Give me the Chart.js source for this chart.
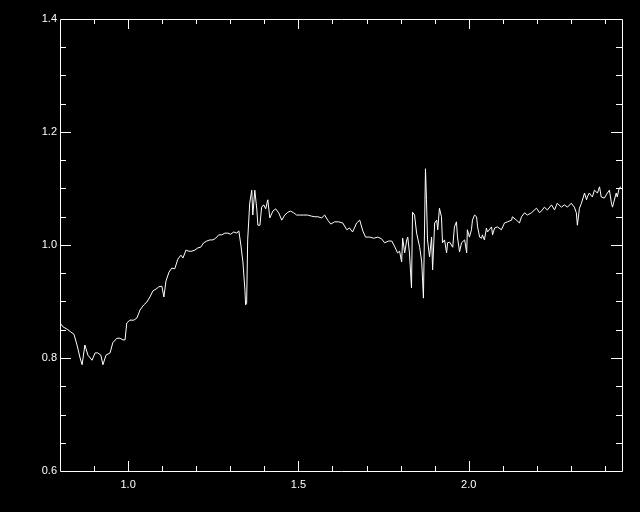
<!DOCTYPE html>
<html>
<head>
<meta charset="utf-8">
<script src="https://cdn.jsdelivr.net/npm/chart.js@4.4.1/dist/chart.umd.min.js"></script>
<style>
html, body { margin: 0; padding: 0; background: #000; }
#wrap { width: 640px; height: 512px; position: relative; }
</style>
</head>
<body>
<div id="wrap"><canvas id="spectrum"></canvas></div>
<script>
// wavelength (x) and normalised flux (y)
const wavelength = [
    0.800, 0.809, 0.821, 0.832, 0.841, 0.850, 0.859, 0.865, 0.873, 0.882,
    0.894, 0.903, 0.911, 0.920, 0.926, 0.935, 0.947, 0.955, 0.967, 0.976,
    0.985, 0.991, 0.996, 1.005, 1.017, 1.026, 1.035, 1.046, 1.055, 1.064,
    1.073, 1.082, 1.090, 1.099, 1.105, 1.111, 1.120, 1.128, 1.137, 1.146,
    1.155, 1.161, 1.170, 1.178, 1.187, 1.196, 1.205, 1.213, 1.222, 1.231,
    1.240, 1.249, 1.257, 1.266, 1.275, 1.284, 1.293, 1.301, 1.310, 1.319,
    1.325, 1.331, 1.337, 1.343, 1.345, 1.348, 1.351, 1.357, 1.363, 1.366,
    1.372, 1.378, 1.381, 1.387, 1.392, 1.398, 1.404, 1.410, 1.416, 1.425,
    1.433, 1.442, 1.451, 1.460, 1.469, 1.477, 1.486, 1.495, 1.504, 1.516,
    1.527, 1.539, 1.548, 1.557, 1.568, 1.577, 1.586, 1.595, 1.606, 1.618,
    1.630, 1.642, 1.650, 1.659, 1.671, 1.680, 1.689, 1.697, 1.709, 1.721,
    1.733, 1.744, 1.753, 1.765, 1.774, 1.782, 1.791, 1.797, 1.803, 1.806,
    1.812, 1.818, 1.821, 1.826, 1.832, 1.835, 1.841, 1.847, 1.856, 1.862,
    1.867, 1.873, 1.876, 1.879, 1.885, 1.891, 1.894, 1.900, 1.906, 1.909,
    1.914, 1.920, 1.923, 1.929, 1.935, 1.938, 1.944, 1.953, 1.958, 1.964,
    1.967, 1.973, 1.979, 1.988, 1.994, 1.996, 2.002, 2.008, 2.011, 2.017,
    2.023, 2.026, 2.032, 2.038, 2.040, 2.046, 2.052, 2.055, 2.067, 2.070,
    2.076, 2.084, 2.096, 2.105, 2.114, 2.126, 2.128, 2.140, 2.149, 2.155,
    2.164, 2.172, 2.184, 2.193, 2.199, 2.208, 2.216, 2.222, 2.231, 2.243,
    2.252, 2.260, 2.272, 2.281, 2.290, 2.301, 2.310, 2.316, 2.319, 2.325,
    2.331, 2.340, 2.346, 2.348, 2.354, 2.363, 2.369, 2.378, 2.384, 2.389,
    2.398, 2.407, 2.413, 2.419, 2.422, 2.433, 2.436, 2.442, 2.447
];
const flux = [
    0.862, 0.855, 0.851, 0.846, 0.842, 0.823, 0.800, 0.788, 0.823, 0.805,
    0.796, 0.809, 0.809, 0.805, 0.788, 0.805, 0.809, 0.827, 0.835, 0.835,
    0.832, 0.832, 0.862, 0.867, 0.867, 0.871, 0.885, 0.894, 0.899, 0.908,
    0.919, 0.922, 0.926, 0.927, 0.908, 0.936, 0.952, 0.959, 0.958, 0.975,
    0.982, 0.977, 0.991, 0.989, 0.989, 0.991, 0.995, 0.996, 1.004, 1.007,
    1.009, 1.009, 1.012, 1.018, 1.018, 1.021, 1.021, 1.019, 1.023, 1.021,
    1.025, 1.000, 0.970, 0.920, 0.894, 0.897, 1.009, 1.074, 1.097, 1.053,
    1.097, 1.062, 1.035, 1.035, 1.067, 1.071, 1.064, 1.080, 1.048, 1.060,
    1.064, 1.057, 1.044, 1.053, 1.058, 1.060, 1.057, 1.053, 1.053, 1.053,
    1.053, 1.051, 1.050, 1.050, 1.048, 1.053, 1.044, 1.037, 1.041, 1.041,
    1.039, 1.027, 1.030, 1.023, 1.039, 1.044, 1.025, 1.014, 1.014, 1.012,
    1.014, 1.011, 1.004, 1.007, 1.007, 0.998, 0.986, 0.989, 0.970, 1.012,
    0.986, 1.009, 1.014, 0.986, 0.924, 1.058, 1.053, 1.021, 0.996, 0.970,
    0.906, 1.135, 1.080, 1.009, 0.979, 1.014, 0.956, 1.039, 1.044, 1.027,
    1.065, 1.050, 1.004, 1.009, 0.986, 1.004, 1.005, 0.996, 1.032, 1.041,
    1.014, 0.988, 1.004, 1.009, 0.986, 1.027, 1.014, 1.027, 1.044, 1.053,
    1.050, 1.032, 1.014, 1.012, 1.018, 1.009, 1.030, 1.023, 1.032, 1.018,
    1.030, 1.032, 1.027, 1.039, 1.041, 1.044, 1.050, 1.044, 1.039, 1.050,
    1.057, 1.053, 1.057, 1.062, 1.065, 1.057, 1.062, 1.067, 1.062, 1.071,
    1.062, 1.074, 1.067, 1.071, 1.067, 1.074, 1.067, 1.057, 1.035, 1.065,
    1.074, 1.092, 1.080, 1.085, 1.092, 1.085, 1.097, 1.092, 1.103, 1.085,
    1.083, 1.092, 1.097, 1.074, 1.067, 1.092, 1.085, 1.101, 1.103
];

const xLabels = [1.0, 1.5, 2.0];
const yLabels = [0.6, 0.8, 1.0, 1.2, 1.4];
const xMinor = [0.9, 1.0, 1.1, 1.2, 1.3, 1.4, 1.5, 1.6, 1.7, 1.8, 1.9, 2.0, 2.1, 2.2, 2.3, 2.4];
const yMinor = [0.65, 0.7, 0.75, 0.8, 0.85, 0.9, 0.95, 1.0, 1.05, 1.1, 1.15, 1.2, 1.25, 1.3, 1.35];

const points = wavelength.map((w, i) => ({ x: w, y: flux[i] }));

const near = (v, list) => list.some(m => Math.abs(m - v) < 1e-6);

// IDL style box with inward ticks on all four sides
const idlBox = {
    id: 'idlBox',
    afterDatasetsDraw(chart) {
        const { ctx, chartArea: a, scales: { x, y } } = chart;
        ctx.save();
        ctx.strokeStyle = '#fff';
        ctx.lineWidth = 1;
        ctx.beginPath();
        ctx.rect(a.left + 0.5, a.top + 0.5, a.right - a.left, a.bottom - a.top);
        xMinor.forEach(v => {
            const px = Math.round(x.getPixelForValue(v)) + 0.5;
            const len = near(v, xLabels) ? 10 : 5;
            ctx.moveTo(px, a.bottom);
            ctx.lineTo(px, a.bottom - len);
            ctx.moveTo(px, a.top);
            ctx.lineTo(px, a.top + len);
        });
        yMinor.forEach(v => {
            const py = Math.round(y.getPixelForValue(v)) + 0.5;
            const len = near(v, yLabels) ? 11 : 6;
            ctx.moveTo(a.left, py);
            ctx.lineTo(a.left + len, py);
            ctx.moveTo(a.right, py);
            ctx.lineTo(a.right - len, py);
        });
        ctx.stroke();
        ctx.restore();
    }
};

const tickFont = { family: 'Liberation Sans', size: 11 };

new Chart(document.getElementById('spectrum'), {
    type: 'line',
    data: {
        datasets: [{
            data: points,
            borderColor: '#fff',
            borderWidth: 1,
            pointRadius: 0,
            tension: 0,
            fill: false
        }]
    },
    options: {
        responsive: true,
        maintainAspectRatio: false,
        animation: false,
        layout: { padding: { top: 19, right: 18, left: 0, bottom: 0 } },
        plugins: {
            legend: { display: false },
            tooltip: { enabled: false }
        },
        scales: {
            x: {
                type: 'linear',
                min: 0.8,
                max: 2.45,
                grid: { display: false, drawTicks: false },
                border: { display: false },
                ticks: {
                    color: '#fff',
                    font: tickFont,
                    padding: 7,
                    maxRotation: 0,
                    autoSkip: false,
                    callback: v => v.toFixed(1)
                },
                afterBuildTicks: s => { s.ticks = xLabels.map(v => ({ value: v })); },
                afterFit: s => { s.height = 41; }
            },
            y: {
                type: 'linear',
                min: 0.6,
                max: 1.4,
                grid: { display: false, drawTicks: false },
                border: { display: false },
                ticks: {
                    color: '#fff',
                    font: tickFont,
                    padding: 3,
                    autoSkip: false,
                    callback: v => v.toFixed(1)
                },
                afterBuildTicks: s => { s.ticks = yLabels.map(v => ({ value: v })); },
                afterFit: s => { s.width = 60; }
            }
        }
    },
    plugins: [idlBox]
});
</script>
</body>
</html>
